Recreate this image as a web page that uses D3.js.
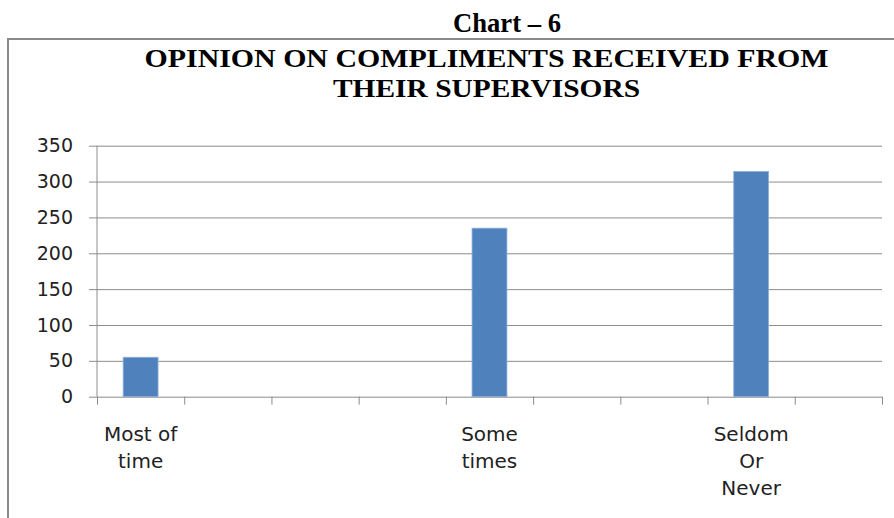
<!DOCTYPE html>
<html>
<head>
<meta charset="utf-8">
<script src="https://cdn.jsdelivr.net/npm/d3@7"></script>
<style>
  body { margin: 0; background: #fff; }
  svg { display: block; }
</style>
</head>
<body>
<svg id="chart" width="894" height="518"></svg>
<script>
// Category slots along the x axis (blank slots have no label), wrapped label lines
const categories = [["Most of", "time"], [], [], [], ["Some", "times"], [], [], ["Seldom", "Or", "Never"], []];
// Number of respondents per slot
const values = [55, null, null, null, 235, null, null, 314, null];
// Value axis ticks
const yTicks = [0, 50, 100, 150, 200, 250, 300, 350];
const heading = "Chart – 6";
const titleLines = ["OPINION ON COMPLIMENTS RECEIVED FROM", "THEIR SUPERVISORS"];

const svg = d3.select("#chart");
const plot = { left: 97, right: 882, top: 145.7, bottom: 396.7 };
const w = plot.right - plot.left;

// Heading above the chart frame
svg.append("text")
  .attr("x", 507).attr("y", 32)
  .attr("text-anchor", "middle")
  .attr("font-family", "'Liberation Serif', 'Times New Roman', serif")
  .attr("font-weight", "bold")
  .attr("font-size", 27)
  .attr("textLength", 108).attr("lengthAdjust", "spacingAndGlyphs")
  .attr("fill", "#000")
  .text(heading);

// Chart frame (left and top edges visible)
svg.append("path")
  .attr("d", "M8,518 L8,39 L894,39")
  .attr("fill", "none")
  .attr("stroke", "#8a8a8a")
  .attr("stroke-width", 2);

// Chart title
const titleLens = [684, 307];
const titleBase = [67, 97];
titleLines.forEach((t, i) => {
  svg.append("text")
    .attr("x", 486.5).attr("y", titleBase[i])
    .attr("text-anchor", "middle")
    .attr("font-family", "'Liberation Serif', 'Times New Roman', serif")
    .attr("font-weight", "bold")
    .attr("font-size", 26)
    .attr("textLength", titleLens[i]).attr("lengthAdjust", "spacingAndGlyphs")
    .attr("fill", "#000")
    .text(t);
});

// Scales
const idx = d3.range(categories.length);
const x = d3.scaleBand().domain(idx).range([plot.left, plot.right]).paddingInner(0.6).paddingOuter(0.3);
const xEdge = d3.scaleLinear().domain([0, categories.length]).range([plot.left, plot.right]);
const y = d3.scaleLinear().domain([0, 350]).range([plot.bottom, plot.top]);

// Horizontal gridlines
const grid = svg.append("g")
  .attr("transform", `translate(${plot.left},0)`)
  .call(d3.axisLeft(y).tickValues(yTicks).tickSize(-w).tickFormat(""));
grid.select(".domain").remove();
grid.selectAll(".tick line").attr("stroke", "#8c8c8c").attr("stroke-width", 1);

// Value axis with tick marks and labels
const yAxis = svg.append("g")
  .attr("transform", `translate(${plot.left},0)`)
  .call(d3.axisLeft(y).tickValues(yTicks).tickSize(8).tickPadding(16));
yAxis.select(".domain").attr("d", `M0,${plot.top}V${plot.bottom}`).attr("stroke", "#8c8c8c");
yAxis.selectAll(".tick line").attr("stroke", "#8c8c8c");
yAxis.selectAll(".tick text")
  .attr("font-family", "'DejaVu Sans', sans-serif")
  .attr("font-size", 19)
  .attr("fill", "#222");

// Category axis tick marks at slot boundaries
const xAxis = svg.append("g")
  .attr("transform", `translate(0,${plot.bottom})`)
  .call(d3.axisBottom(xEdge).tickValues(d3.range(categories.length + 1)).tickSize(8).tickFormat(""));
xAxis.select(".domain").remove();
xAxis.selectAll(".tick line").attr("stroke", "#8c8c8c");

// Bars
svg.append("g").selectAll("rect")
  .data(idx.filter(i => values[i] != null))
  .join("rect")
  .attr("x", i => x(i))
  .attr("width", x.bandwidth())
  .attr("y", i => y(values[i]))
  .attr("height", i => y(0) - y(values[i]))
  .attr("fill", "#4F81BD")
  .attr("stroke", "#8fb0da")
  .attr("stroke-width", 0.8);

// Category labels, wrapped onto lines
const labels = svg.append("g")
  .attr("font-family", "'DejaVu Sans', sans-serif")
  .attr("font-size", 20)
  .attr("fill", "#222")
  .attr("text-anchor", "middle");
idx.forEach(i => {
  categories[i].forEach((line, j) => {
    labels.append("text")
      .attr("x", x(i) + x.bandwidth() / 2)
      .attr("y", 440.5 + j * 27)
      .text(line);
  });
});
</script>
</body>
</html>
